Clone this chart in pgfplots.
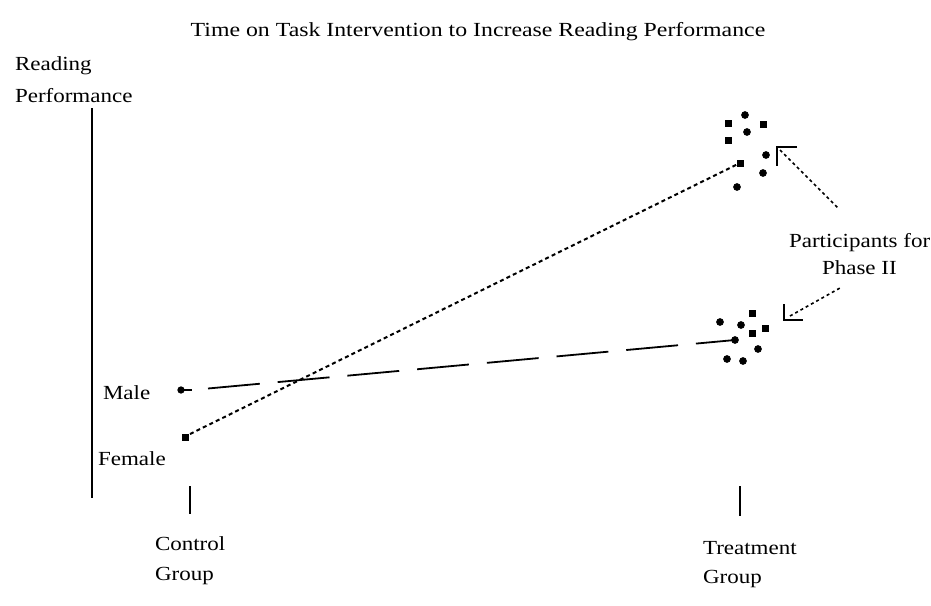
\documentclass[border=0pt]{standalone}
\usepackage{fontspec}
\setmainfont{Liberation Serif}
\usepackage{pgfplots}
\pgfplotsset{compat=1.18}
\tikzset{lbl/.style={font=\fontsize{10}{12}\selectfont, inner sep=0pt, outer sep=0pt, xscale=1.15}}
\begin{document}
\begin{tikzpicture}
\begin{axis}[
  width=465.5pt, height=302.5pt, scale only axis,
  xmin=0, xmax=931, ymin=0, ymax=605, y dir=reverse,
  hide axis, clip=false,
]
% frame for bounding box
\addplot[draw=none] coordinates {(0,0) (931,605)};
% y axis and group ticks
\addplot[black, line width=1pt] coordinates {(92,108) (92,498)};
\addplot[black, line width=1pt] coordinates {(190,486) (190,514)};
\addplot[black, line width=1pt] coordinates {(740,486) (740,516)};
% Female line (short dashes)
\addplot[black, line width=1pt, dash pattern=on 2pt off 1.6pt] coordinates {(190,434) (740,163)};
% Male line (long dashes)
\addplot[black, line width=0.9pt] coordinates {(181,390) (192,390)};
\addplot[black, line width=0.9pt, dash pattern=on 26pt off 9pt] coordinates {(208,388.5) (735,340)};
% control points
\addplot[only marks, mark=*, mark size=1.6pt, black] coordinates {(181,390)};
\addplot[only marks, mark=square*, mark size=1.5pt, black] coordinates {(185,437)};
% upper cluster
\addplot[only marks, mark=*, mark size=1.7pt, black] coordinates {
(745,115) (747,132) (766,155) (763,173) (737,187)};
\addplot[only marks, mark=square*, mark size=1.5pt, black] coordinates {
(728,123) (763,124) (728,140) (740,163)};
% lower cluster
\addplot[only marks, mark=*, mark size=1.7pt, black] coordinates {
(720,322) (741,325) (735,340) (758,349) (727,359) (743,361)};
\addplot[only marks, mark=square*, mark size=1.5pt, black] coordinates {
(752,313) (765,328) (752,333)};
% upper arrow
\addplot[black, line width=1pt] coordinates {(797,147) (777,147) (777,166)};
\addplot[black, line width=0.8pt, dash pattern=on 1.5pt off 1.5pt] coordinates {(780,150) (838,208)};
% lower arrow
\addplot[black, line width=1pt] coordinates {(784,304) (784,320) (803,320)};
\addplot[black, line width=0.8pt, dash pattern=on 1.5pt off 1.5pt] coordinates {(790,316) (840,288)};
% texts
\node[lbl, anchor=base, xscale=1.035] at (axis cs:478,36) {Time on Task Intervention to Increase Reading Performance};
\node[lbl, anchor=base west] at (axis cs:15,70) {Reading};
\node[lbl, anchor=base west] at (axis cs:15,102) {Performance};
\node[lbl, anchor=base west] at (axis cs:103,399) {Male};
\node[lbl, anchor=base west] at (axis cs:98,465) {Female};
\node[lbl, anchor=base west] at (axis cs:155,550) {Control};
\node[lbl, anchor=base west] at (axis cs:155,580) {Group};
\node[lbl, anchor=base west] at (axis cs:703,554) {Treatment};
\node[lbl, anchor=base west] at (axis cs:703,583) {Group};
\node[lbl, anchor=base west] at (axis cs:789,247) {Participants for};
\node[lbl, anchor=base west] at (axis cs:822,274) {Phase II};
\end{axis}
\end{tikzpicture}
\end{document}
